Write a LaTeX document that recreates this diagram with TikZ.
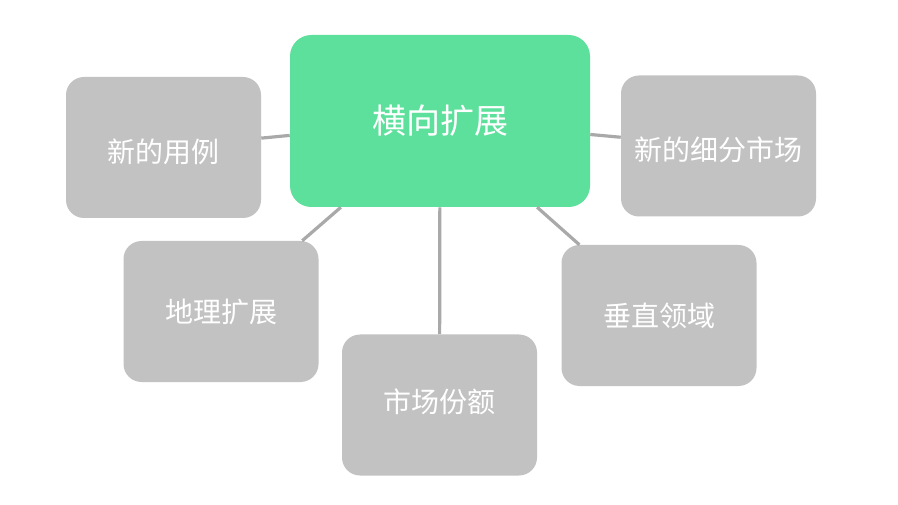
\documentclass[tikz,border=0pt]{standalone}
\usepackage{fontspec}
\setmainfont{Noto Sans CJK SC}
\definecolor{boxgray}{HTML}{C2C2C2}
\definecolor{boxgreen}{HTML}{5CE09C}
\definecolor{linegray}{HTML}{A9A9A9}
\tikzset{
  graybox/.style={fill=boxgray, rounded corners=13.5pt, minimum width=146.25pt, minimum height=105.75pt, text=white, font=\fontsize{21pt}{24pt}\selectfont, inner sep=0pt, text height=20pt, text depth=3pt},
  lowtext/.style={text height=25pt},
  hightext/.style={text depth=9pt},
  greenbox/.style={fill=boxgreen, rounded corners=16pt, minimum width=225pt, minimum height=129pt, text=white, font=\fontsize{25.5pt}{28pt}\selectfont, inner sep=0pt},
  conn/.style={draw=linegray, line width=2.4pt}
}
\begin{document}
\begin{tikzpicture}[x=0.75pt,y=-0.75pt]
\useasboundingbox[fill=white] (0,0) rectangle (898,505);
\node[greenbox] (c) at (440,121) {横向扩展};
\node[graybox,lowtext] (a) at (163.5,147.5) {新的用例};
\node[graybox,lowtext] (b) at (718.5,146) {新的细分市场};
\node[graybox] (d) at (221,311.5) {地理扩展};
\node[graybox,hightext] (e) at (439.5,405) {市场份额};
\node[graybox] (f) at (659,315.5) {垂直领域};
\draw[conn] (a) -- (c);
\draw[conn] (c) -- (b);
\draw[conn] (c) -- (d);
\draw[conn] (c) -- (e);
\draw[conn] (c) -- (f);
\end{tikzpicture}
\end{document}
